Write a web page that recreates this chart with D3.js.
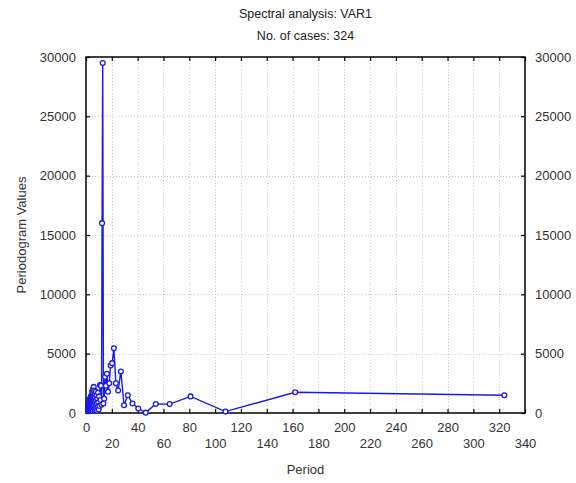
<!DOCTYPE html>
<html>
<head>
<meta charset="utf-8">
<script src="https://cdn.jsdelivr.net/npm/d3@7.9.0/dist/d3.min.js"></script>
<style>
  html, body { margin: 0; padding: 0; background: #fff; }
  svg { display: block; font-family: "Liberation Sans", Arial, sans-serif; }
</style>
</head>
<body>
<svg id="chart" width="576" height="483"></svg>
<script>
const title = "Spectral analysis: VAR1";
const subtitle = "No. of cases: 324";
const xLabel = "Period";
const yLabel = "Periodogram Values";

// period of each harmonic k = 1..162 (324 / k)
const periods = [
  324, 162, 108, 81, 64.8, 54, 46.29, 40.5, 36, 32.4,
  29.45, 27, 24.92, 23.14, 21.6, 20.25, 19.06, 18, 17.05, 16.2,
  15.43, 14.73, 14.09, 13.5, 12.96, 12.46, 12, 11.57, 11.17, 10.8,
  10.45, 10.13, 9.82, 9.53, 9.26, 9, 8.76, 8.53, 8.31, 8.1,
  7.9, 7.71, 7.53, 7.36, 7.2, 7.04, 6.89, 6.75, 6.61, 6.48,
  6.35, 6.23, 6.11, 6, 5.89, 5.79, 5.68, 5.59, 5.49, 5.4,
  5.31, 5.23, 5.14, 5.06, 4.98, 4.91, 4.84, 4.76, 4.7, 4.63,
  4.56, 4.5, 4.44, 4.38, 4.32, 4.26, 4.21, 4.15, 4.1, 4.05,
  4, 3.95, 3.9, 3.86, 3.81, 3.77, 3.72, 3.68, 3.64, 3.6,
  3.56, 3.52, 3.48, 3.45, 3.41, 3.38, 3.34, 3.31, 3.27, 3.24,
  3.21, 3.18, 3.15, 3.12, 3.09, 3.06, 3.03, 3, 2.97, 2.95,
  2.92, 2.89, 2.87, 2.84, 2.82, 2.79, 2.77, 2.75, 2.72, 2.7,
  2.68, 2.66, 2.63, 2.61, 2.59, 2.57, 2.55, 2.53, 2.51, 2.49,
  2.47, 2.45, 2.44, 2.42, 2.4, 2.38, 2.36, 2.35, 2.33, 2.31,
  2.3, 2.28, 2.27, 2.25, 2.23, 2.22, 2.2, 2.19, 2.17, 2.16,
  2.15, 2.13, 2.12, 2.1, 2.09, 2.08, 2.06, 2.05, 2.04, 2.03,
  2.01, 2
];

// periodogram values, same order as periods
const periodogram = [
  1500, 1750, 120, 1400, 750, 760, 30, 380, 800, 1500,
  650, 3500, 1900, 2500, 5450, 4200, 4000, 2500, 1800, 3300,
  2300, 3050, 1200, 800, 29500, 16000, 700, 2300, 1100, 2350,
  600, 1400, 300, 900, 1700, 500, 1200, 200, 800, 1500,
  400, 1100, 1800, 700, 250, 1300, 900, 1600, 350, 1000,
  1900, 600, 1400, 2200, 800, 1200, 450, 1700, 2000, 900,
  1300, 500, 1600, 1100, 300, 1400, 800, 1800, 600, 1000,
  1200, 400, 900, 1500, 700, 200, 1100, 1300, 500, 800,
  1000, 600, 1200, 300, 900, 1400, 500, 700, 1100, 400,
  800, 1000, 300, 1200, 600, 900, 200, 700, 1100, 500,
  900, 400, 1000, 600, 300, 800, 1200, 500, 700, 200,
  600, 900, 400, 1100, 300, 700, 500, 800, 200, 600,
  900, 300, 700, 500, 1000, 400, 600, 200, 800, 500,
  300, 700, 500, 900, 200, 600, 400, 800, 300, 500,
  700, 200, 600, 400, 500, 300, 800, 400, 200, 600,
  500, 300, 700, 400, 200, 600, 300, 500, 400, 200,
  500, 300
];

const xTicks = d3.range(0, 341, 20);
const yTicks = [0, 5000, 10000, 15000, 20000, 25000, 30000];

const svg = d3.select("#chart");
const margin = { left: 86, right: 51, top: 57, bottom: 70 };
const width = 576 - margin.left - margin.right;
const height = 483 - margin.top - margin.bottom;

const x = d3.scaleLinear().domain([0, 340]).range([margin.left, margin.left + width]);
const y = d3.scaleLinear().domain([0, 30000]).range([margin.top + height, margin.top]);

const points = periods
  .map((p, i) => ({ period: p, value: periodogram[i] }))
  .sort((a, b) => a.period - b.period);

// titles
svg.append("text")
  .attr("x", x(170)).attr("y", 18)
  .attr("text-anchor", "middle")
  .attr("font-size", 12.5)
  .attr("fill", "#222")
  .text(title);
svg.append("text")
  .attr("x", x(170)).attr("y", 40)
  .attr("text-anchor", "middle")
  .attr("font-size", 12.5)
  .attr("fill", "#222")
  .text(subtitle);

// grid
const grid = svg.append("g")
  .attr("stroke", "#c8c8c8")
  .attr("stroke-dasharray", "1,2")
  .attr("stroke-width", 1);
grid.selectAll(".gx")
  .data(xTicks.slice(1, -1))
  .join("line")
  .attr("x1", (d) => Math.round(x(d)) + 0.5).attr("x2", (d) => Math.round(x(d)) + 0.5)
  .attr("y1", y(30000)).attr("y2", y(0));
grid.selectAll(".gy")
  .data(yTicks.slice(1, -1))
  .join("line")
  .attr("y1", (d) => Math.round(y(d)) + 0.5).attr("y2", (d) => Math.round(y(d)) + 0.5)
  .attr("x1", x(0)).attr("x2", x(340));

// axes with inward ticks
const fmt = d3.format("d");
const axisStyle = (g) => {
  g.select(".domain").remove();
  g.selectAll("line").attr("stroke", "#000").attr("stroke-width", 1.2);
  g.selectAll("text").attr("font-size", 13).attr("fill", "#333");
};

svg.append("g")
  .attr("transform", `translate(0,${y(0)})`)
  .call(d3.axisBottom(x).tickValues(xTicks).tickSizeInner(-4).tickSizeOuter(0).tickFormat(fmt).tickPadding(10))
  .call(axisStyle)
  .call((g) => g.selectAll(".tick text")
    .attr("dy", (d) => (d / 20) % 2 === 1 ? "1.95em" : "0.71em"));

svg.append("g")
  .attr("transform", `translate(0,${y(30000)})`)
  .call(d3.axisTop(x).tickValues(xTicks).tickSizeInner(-4).tickSizeOuter(0).tickFormat(""))
  .call(axisStyle);

svg.append("g")
  .attr("transform", `translate(${x(0)},0)`)
  .call(d3.axisLeft(y).tickValues(yTicks).tickSizeInner(-4).tickSizeOuter(0).tickFormat(fmt).tickPadding(10))
  .call(axisStyle);

svg.append("g")
  .attr("transform", `translate(${x(340)},0)`)
  .call(d3.axisRight(y).tickValues(yTicks).tickSizeInner(-4).tickSizeOuter(0).tickFormat(fmt).tickPadding(10))
  .call(axisStyle);

// frame
svg.append("rect")
  .attr("x", x(0)).attr("y", y(30000))
  .attr("width", x(340) - x(0)).attr("height", y(0) - y(30000))
  .attr("fill", "none")
  .attr("stroke", "#000")
  .attr("stroke-width", 1.5);

// axis titles
svg.append("text")
  .attr("x", x(170)).attr("y", 474)
  .attr("text-anchor", "middle")
  .attr("font-size", 13)
  .attr("fill", "#333")
  .text(xLabel);
svg.append("text")
  .attr("transform", `translate(26,${y(15000)}) rotate(-90)`)
  .attr("text-anchor", "middle")
  .attr("font-size", 13)
  .attr("fill", "#333")
  .text(yLabel);

// series
const line = d3.line().x((d) => x(d.period)).y((d) => y(d.value));
svg.append("path")
  .datum(points)
  .attr("d", line)
  .attr("fill", "none")
  .attr("stroke", "#1a1ae6")
  .attr("stroke-width", 1.4);

svg.append("g")
  .selectAll("circle")
  .data(points)
  .join("circle")
  .attr("cx", (d) => x(d.period))
  .attr("cy", (d) => y(d.value))
  .attr("r", 2.4)
  .attr("fill", "#fff")
  .attr("stroke", "#1a1ae6")
  .attr("stroke-width", 1.3);
</script>
</body>
</html>
